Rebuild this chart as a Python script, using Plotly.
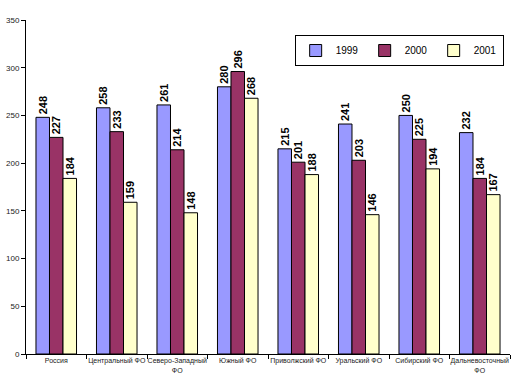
import plotly.graph_objects as go

categories = ["Россия", "Центральный ФО", "Северо-Западный<br>ФО", "Южный ФО",
              "Приволжский ФО", "Уральский ФО", "Сибирский ФО", "Дальневосточный<br>ФО"]
v1999 = [248, 258, 261, 280, 215, 241, 250, 232]
v2000 = [227, 233, 214, 296, 201, 203, 225, 184]
v2001 = [184, 159, 148, 268, 188, 146, 194, 167]
series = [("1999", v1999, "#9999FF"), ("2000", v2000, "#993366"), ("2001", v2001, "#FFFFCC")]
yticks = [0, 50, 100, 150, 200, 250, 300, 350]

fig = go.Figure()
for name, vals, color in series:
    fig.add_trace(go.Bar(
        x=categories, y=vals, name=name,
        marker=dict(color=color, line=dict(color="black", width=1)),
        text=[str(v) for v in vals], textposition="outside", textangle=-90,
        textfont=dict(family="Liberation Sans, Arial", size=11, color="black", weight="bold"),
        constraintext="none", cliponaxis=False,
    ))

fig.update_layout(
    width=514, height=392,
    margin=dict(l=26, r=4, t=20, b=38, autoexpand=False),
    paper_bgcolor="white", plot_bgcolor="white",
    barmode="group", bargap=0.33, bargroupgap=0,
    font=dict(family="Liberation Sans, Arial", color="black"),
    showlegend=True,
    legend=dict(orientation="h", x=0.771, y=0.955, xanchor="center", yanchor="top",
                bordercolor="black", borderwidth=1, bgcolor="white",
                font=dict(size=10), itemwidth=30, entrywidth=24,
                traceorder="normal"),
)
fig.update_xaxes(showline=True, linecolor="black", linewidth=1, ticks="outside",
                 tickson="boundaries", ticklen=4, tickcolor="black", tickangle=0,
                 tickfont=dict(size=7, color="#222"), showgrid=False)
fig.update_yaxes(range=[0, 350], tickvals=yticks, showline=True, linecolor="black",
                 linewidth=1, ticks="outside", ticklen=4, tickcolor="black",
                 tickfont=dict(size=8, color="#222"), showgrid=False, zeroline=False)

fig.write_html("out.html", config={"displayModeBar": False},
               post_script="document.body.style.margin='0';document.body.style.overflow='hidden';")
